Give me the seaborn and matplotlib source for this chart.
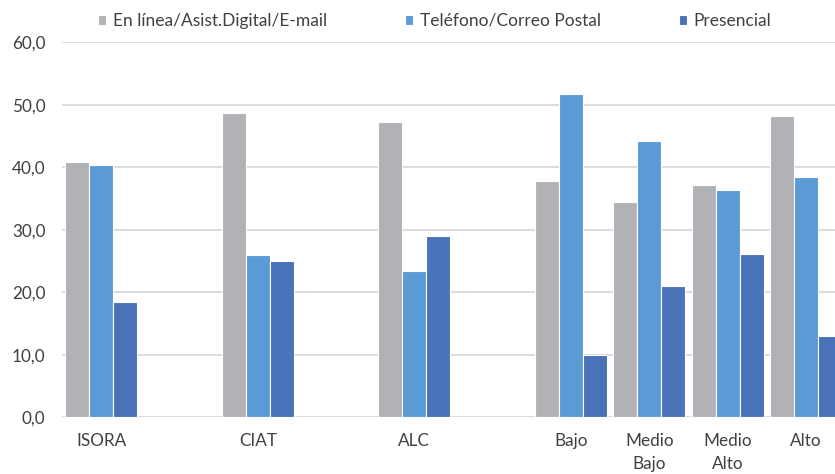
import matplotlib
matplotlib.use("Agg")
import matplotlib.pyplot as plt
import seaborn as sns
import pandas as pd

# data
categories = ["ISORA", "CIAT", "ALC", "Bajo", "Medio\nBajo", "Medio\nAlto", "Alto"]
# empty slots keep the wide spacing between the first groups
slot_order = ["ISORA", " ", "CIAT", "  ", "ALC", "   ",
              "Bajo", "Medio\nBajo", "Medio\nAlto", "Alto"]
series = ["En línea/Asist.Digital/E-mail", "Teléfono/Correo Postal", "Presencial"]
online = [40.9, 48.7, 47.2, 37.8, 34.4, 37.1, 48.2]
phone = [40.3, 26.0, 23.4, 51.7, 44.2, 36.4, 38.4]
inperson = [18.4, 25.0, 29.0, 10.0, 21.0, 26.1, 13.0]
yticks = [0, 10, 20, 30, 40, 50, 60]
colors = ["#B1B2B5", "#5B9BD5", "#4A72B8"]

rows = []
for name, vals in zip(series, [online, phone, inperson]):
    for cat, v in zip(categories, vals):
        rows.append({"cat": cat, "serie": name, "valor": v})
df = pd.DataFrame(rows)

sns.set_style("white")
plt.rcParams["font.family"] = ["Lato", "DejaVu Sans"]

fig = plt.figure(figsize=(8.35, 4.74), dpi=100)
ax = fig.add_axes([62 / 835, 1 - 417.3 / 474, 1 - 62 / 835, 375 / 474])

sns.barplot(data=df, x="cat", y="valor", hue="serie", order=slot_order,
            hue_order=series, palette=colors, saturation=1, width=0.92,
            edgecolor="white", linewidth=0.8, ax=ax, legend=True)

ax.set_xlim(-0.5, -0.5 + (835 - 62) / 78.3)
ax.set_ylim(0, 60)
ax.set_yticks(yticks)
ax.set_yticklabels([f"{t:.1f}".replace(".", ",") for t in yticks])
ax.set_xlabel("")
ax.set_ylabel("")
ax.yaxis.grid(True, color="#D9D9D9", linewidth=1.3)
ax.set_axisbelow(True)
for s in ax.spines.values():
    s.set_visible(False)
ax.tick_params(axis="both", length=0, labelsize=12.3, colors="#404040")
ax.tick_params(axis="y", pad=12)
ax.tick_params(axis="x", pad=11.5)
for lbl in ax.get_xticklabels():
    lbl.set_linespacing(1.5)

handles, labels = ax.get_legend_handles_labels()
ax.legend_.remove()
fig.legend(handles, labels, loc="center left", bbox_to_anchor=(89 / 835, 1 - 21 / 474),
           ncol=3, frameon=False, fontsize=12.5, borderpad=0, handlelength=0.46,
           handleheight=0.46, handletextpad=0.4, columnspacing=4.5, labelcolor="#404040")

fig.savefig("out.png", dpi=100)
